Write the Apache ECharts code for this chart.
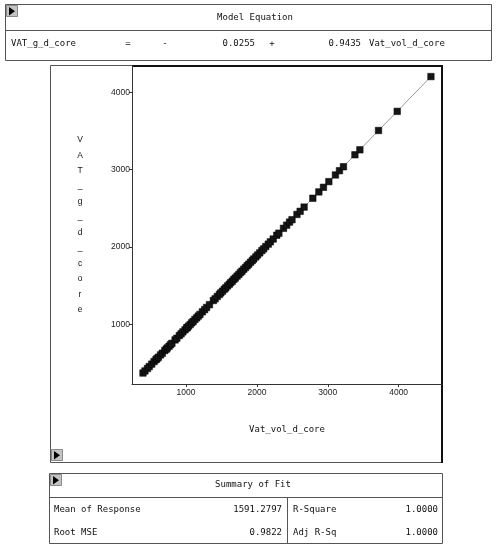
<!DOCTYPE html>
<html>
<head>
<meta charset="utf-8">
<script src="https://cdn.jsdelivr.net/npm/echarts@6/dist/echarts.min.js"></script>
<style>
html,body{margin:0;padding:0;background:#fff}
#chart{width:497px;height:550px}
</style>
</head>
<body>
<div id="chart"></div>
<script>
// data
const vatVol = [392,420,455,480,515,548,575,590,610,640,665,700,720,735,760,780,800,845,870,905,930,955,985,1010,1015,
  1035,1058,1080,1100,1125,1150,1172,1196,1230,1262,1290,1330,1385,1410,1440,1470,1490,1515,1540,1560,1585,
  1610,1630,1652,1675,1695,1720,1745,1768,1790,1815,1840,1862,1885,1910,1935,1955,1985,2010,2040,2070,2095,
  2125,2160,2190,2230,2280,2310,2375,2420,2460,2495,2565,2610,2666,
  2789,2874,2939,3015,3108,3165,3221,3383,3453,3716,3980,4456]
const vatG = [369.8,396.9,428.6,453.5,485.1,517.9,541.7,557.4,574.8,604.5,626.6,661.2,678.5,694.3,716.4,736.8,754.1,798.0,820.1,854.6,876.8,901.9,928.5,953.6,956.9,
  977.3,997.4,1019.8,1036.9,1062.1,1084.2,1106.7,1127.5,1161.2,1189.9,1217.9,1254.1,1307.5,1329.6,1359.4,1386.1,1406.7,1428.6,1453.8,1471.1,1496.2,
  1518.3,1538.7,1557.8,1581.2,1598.4,1623.6,1645.5,1668.9,1688.1,1713.3,1735.2,1757.6,1777.7,1802.9,1824.9,1845.3,1871.9,1897.2,1923.8,1953.9,1975.8,
  2005.7,2037.1,2067.1,2103.2,2152.0,2178.6,2241.6,2282.4,2321.9,2353.1,2420.9,2461.6,2516.2,
  2630.5,2712.4,2772.0,2845.5,2931.6,2987.0,3038.1,3192.8,3257.0,3506.9,3754.2,4204.2]
const fitX = [392, 4456]
const fitY = [369.9, 4204.1]
const xTicks = [1000, 2000, 3000, 4000]
const yTicks = [1000, 2000, 3000, 4000]
const xRange = [237, 4612]
const yRange = [228, 4341]
const yName = 'VAT_g_d_core'
const xName = 'Vat_vol_d_core'
const eqTitle = 'Model Equation'
const eqRow = ['VAT_g_d_core', '=', '-', '0.0255', '+', '0.9435', 'Vat_vol_d_core']
const fitTitle = 'Summary of Fit'
const fitRows = [
  ['Mean of Response', '1591.2797', 'R-Square', '1.0000'],
  ['Root MSE', '0.9822', 'Adj R-Sq', '1.0000']
]

const mono = '9px "DejaVu Sans Mono", monospace'

function txt(s, x, y, align, font){
  return {type:'text', silent:true, style:{text:s, x:x, y:y, font:font||mono, fill:'#111',
    textAlign:align||'left', textVerticalAlign:'middle'}}
}
function line(x1,y1,x2,y2,w,c){
  return {type:'line', silent:true, shape:{x1:x1,y1:y1,x2:x2,y2:y2}, style:{stroke:c||'#555', lineWidth:w||1}}
}
function box(x,y,w,h){
  return {type:'rect', silent:true, shape:{x:x,y:y,width:w,height:h}, style:{fill:'none', stroke:'#555', lineWidth:1}}
}
// little grey button with a black arrow
function btn(x,y){
  return [
    {type:'rect', silent:true, shape:{x:x,y:y,width:11,height:11}, style:{fill:'#c4c4c4', stroke:'#8a8a8a', lineWidth:1}},
    {type:'polygon', silent:true, shape:{points:[[x+2.5,y+1.5],[x+2.5,y+10],[x+8.5,y+5.7]]}, style:{fill:'#000'}}
  ]
}

const g = []
// model equation panel
g.push(box(5.5,4.5,486,56), line(6,30.5,491,30.5))
g.push(...btn(6.5,5.5))
g.push(txt(eqTitle,255,18,'center'))
g.push(txt(eqRow[0],11,44), txt(eqRow[1],128,44,'center'), txt(eqRow[2],165,44,'center'),
  txt(eqRow[3],255,44,'right'), txt(eqRow[4],272,44,'center'), txt(eqRow[5],361,44,'right'), txt(eqRow[6],369,44))
// plot frame
g.push(box(50.5,65.5,392,397))
g.push(line(132,66,443,66,2,'#111'), line(442,66,442,463,2,'#111'))
g.push(...btn(51.5,449.5))
g.push({type:'text', silent:true, style:{text:yName.split('').join('\n'), x:80, y:132, font:'8.5px "Liberation Sans", Arial, sans-serif',
  fill:'#111', textAlign:'center', lineHeight:15.45}})
g.push(txt(xName,287,430,'center'))
// summary of fit panel
g.push(box(49.5,473.5,393,70), line(50,497.5,442,497.5), line(287.5,498,287.5,543))
g.push(...btn(50.5,474.5))
g.push(txt(fitTitle,253,485,'center'))
fitRows.forEach(function(r,i){
  const y = 510 + i*23
  g.push(txt(r[0],54,y), txt(r[1],282,y,'right'), txt(r[2],293,y), txt(r[3],438,y,'right'))
})

const plain = function(v){ return String(v) }

const myChart = echarts.init(document.getElementById('chart'))
myChart.setOption({
  animation:false,
  backgroundColor:'#fff',
  grid:{left:132, right:55, top:66, bottom:166, show:false},
  xAxis:{
    type:'value', min:xRange[0], max:xRange[1],
    axisLine:{show:true, onZero:false, lineStyle:{color:'#333', width:1}},
    axisTick:{show:true, length:3, customValues:xTicks, lineStyle:{color:'#333'}},
    axisLabel:{customValues:xTicks, formatter:plain, color:'#222', fontSize:8.5, fontFamily:'Liberation Sans', margin:4},
    splitLine:{show:false}
  },
  yAxis:{
    type:'value', min:yRange[0], max:yRange[1],
    axisLine:{show:true, onZero:false, lineStyle:{color:'#333', width:1}},
    axisTick:{show:true, length:3, customValues:yTicks, lineStyle:{color:'#333'}},
    axisLabel:{customValues:yTicks, formatter:plain, color:'#222', fontSize:8.5, fontFamily:'Liberation Sans', margin:2},
    splitLine:{show:false}
  },
  series:[
    {
      type:'line', data:fitX.map(function(x,i){return [x, fitY[i]]}),
      symbol:'none', lineStyle:{color:'#9a9a9a', width:1}, z:1
    },
    {
      type:'scatter', data:vatVol.map(function(x,i){return [x, vatG[i]]}),
      symbol:'rect', symbolSize:6.5,
      itemStyle:{color:'#151515', borderColor:'#000', borderWidth:0.5, opacity:1}, z:2
    }
  ],
  graphic:g
})
</script>
</body>
</html>
